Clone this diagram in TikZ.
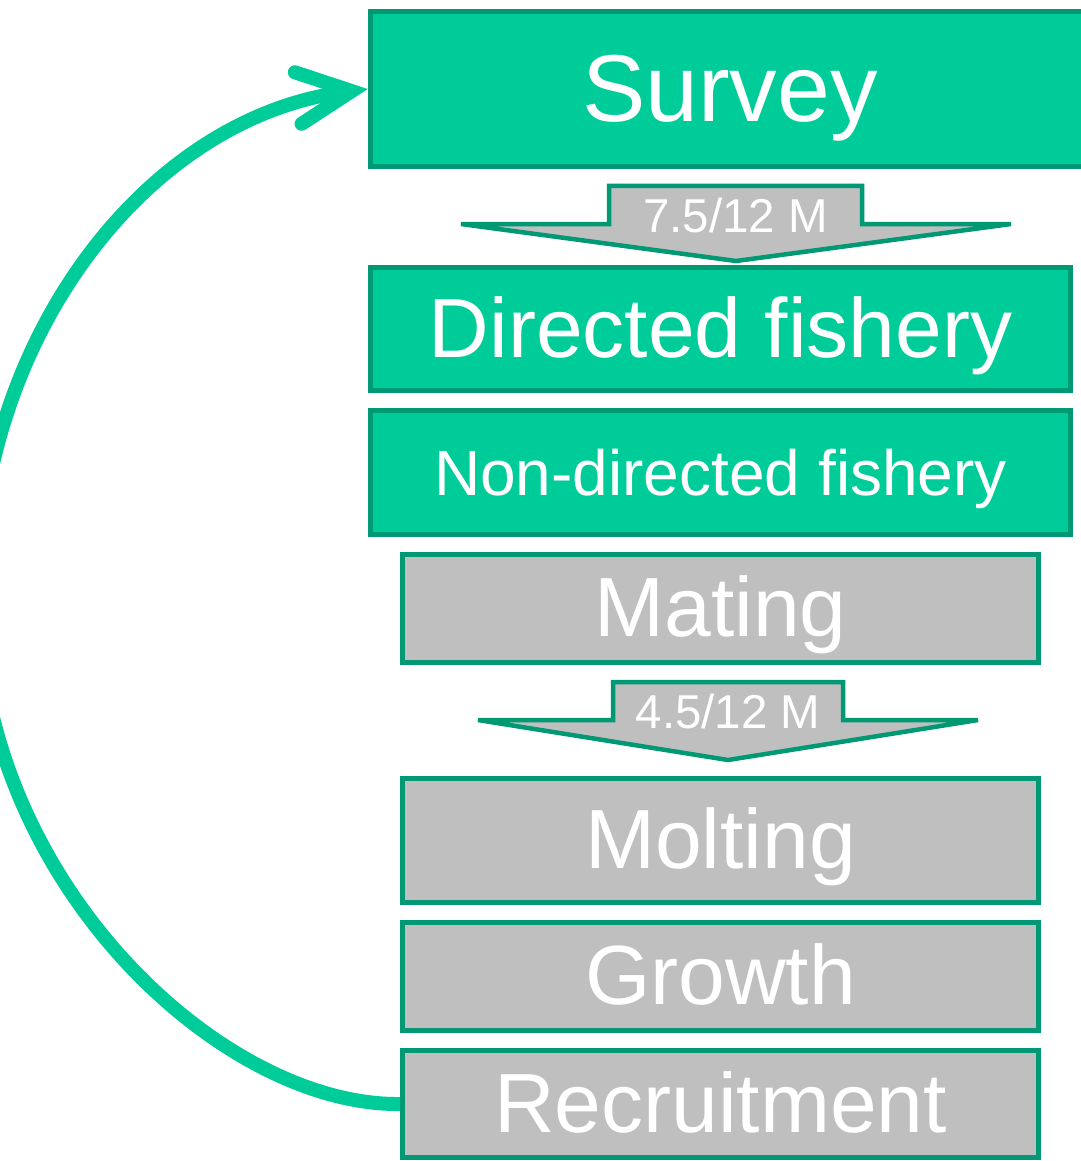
\documentclass[tikz,border=0pt]{standalone}
\usepackage{fontspec}
\setmainfont{Liberation Sans}
\usepackage{tikz}
\usetikzlibrary{arrows.meta,positioning}

\definecolor{stagegreen}{RGB}{0,204,153}
\definecolor{stageline}{RGB}{0,153,116}
\definecolor{stagegray}{RGB}{191,191,191}

\begin{document}
\begin{tikzpicture}[x=1pt,y=-1pt,
stage/.style={draw=stageline,line width=5pt,outer sep=2.5pt,text=white,inner sep=0pt,minimum width=700pt,
  font=\fontsize{84}{84}\selectfont,text height=60pt,text depth=4pt},
fishbox/.style={stage,fill=stagegreen},
lifebox/.style={stage,fill=stagegray,minimum width=636pt},
lag/.style={draw=stageline,line width=4.5pt,fill=stagegray},
laglabel/.style={anchor=base,text=white,inner sep=0pt,font=\fontsize{47.5}{47.5}\selectfont},
returnline/.style={draw=stagegreen,line width=14pt,-{Straight Barb[length=54pt,width=52pt,line cap=round]}}]
\useasboundingbox (0,0) rectangle (1080,1161);
% fishery season
\node[fishbox,minimum width=719.5pt,minimum height=155pt,font=\fontsize{95}{95}\selectfont,text height=68pt,text depth=2pt](survey) at (730,89){Survey};
\node[fishbox,minimum height=123pt](directed) at (720.5,329){Directed fishery};
\node[fishbox,minimum height=124pt,below=15pt of directed,font=\fontsize{64}{64}\selectfont,text height=46pt,text depth=1pt](nondirected){Non-directed fishery};
% life history
\node[lifebox,minimum height=108pt,below=15pt of nondirected](mating){Mating};
\node[lifebox,minimum height=124pt,below=111pt of mating](molting){Molting};
\node[lifebox,minimum height=108pt,below=15pt of molting](growth){Growth};
\node[lifebox,minimum height=107pt,below=15pt of growth](recruit){Recruitment};
% time lags
\draw[lag](609,186)--(862,186)--(862,224)--(1011,224)--(736,261)--(461,224)--(609,224)--cycle;
\node[laglabel](lag1) at (735.5,232){7.5/12 M};
\draw[lag](613,682)--(843,682)--(843,720)--(978,720)--(728,760)--(478,720)--(613,720)--cycle;
\node[laglabel](lag2) at (728,728){4.5/12 M};
% back to next survey
\draw[returnline](recruit.west) .. controls (220,1106) and (-22,880) .. (-22,595) .. controls (-22,340) and (145,118) .. (survey.west);
\end{tikzpicture}
\end{document}
